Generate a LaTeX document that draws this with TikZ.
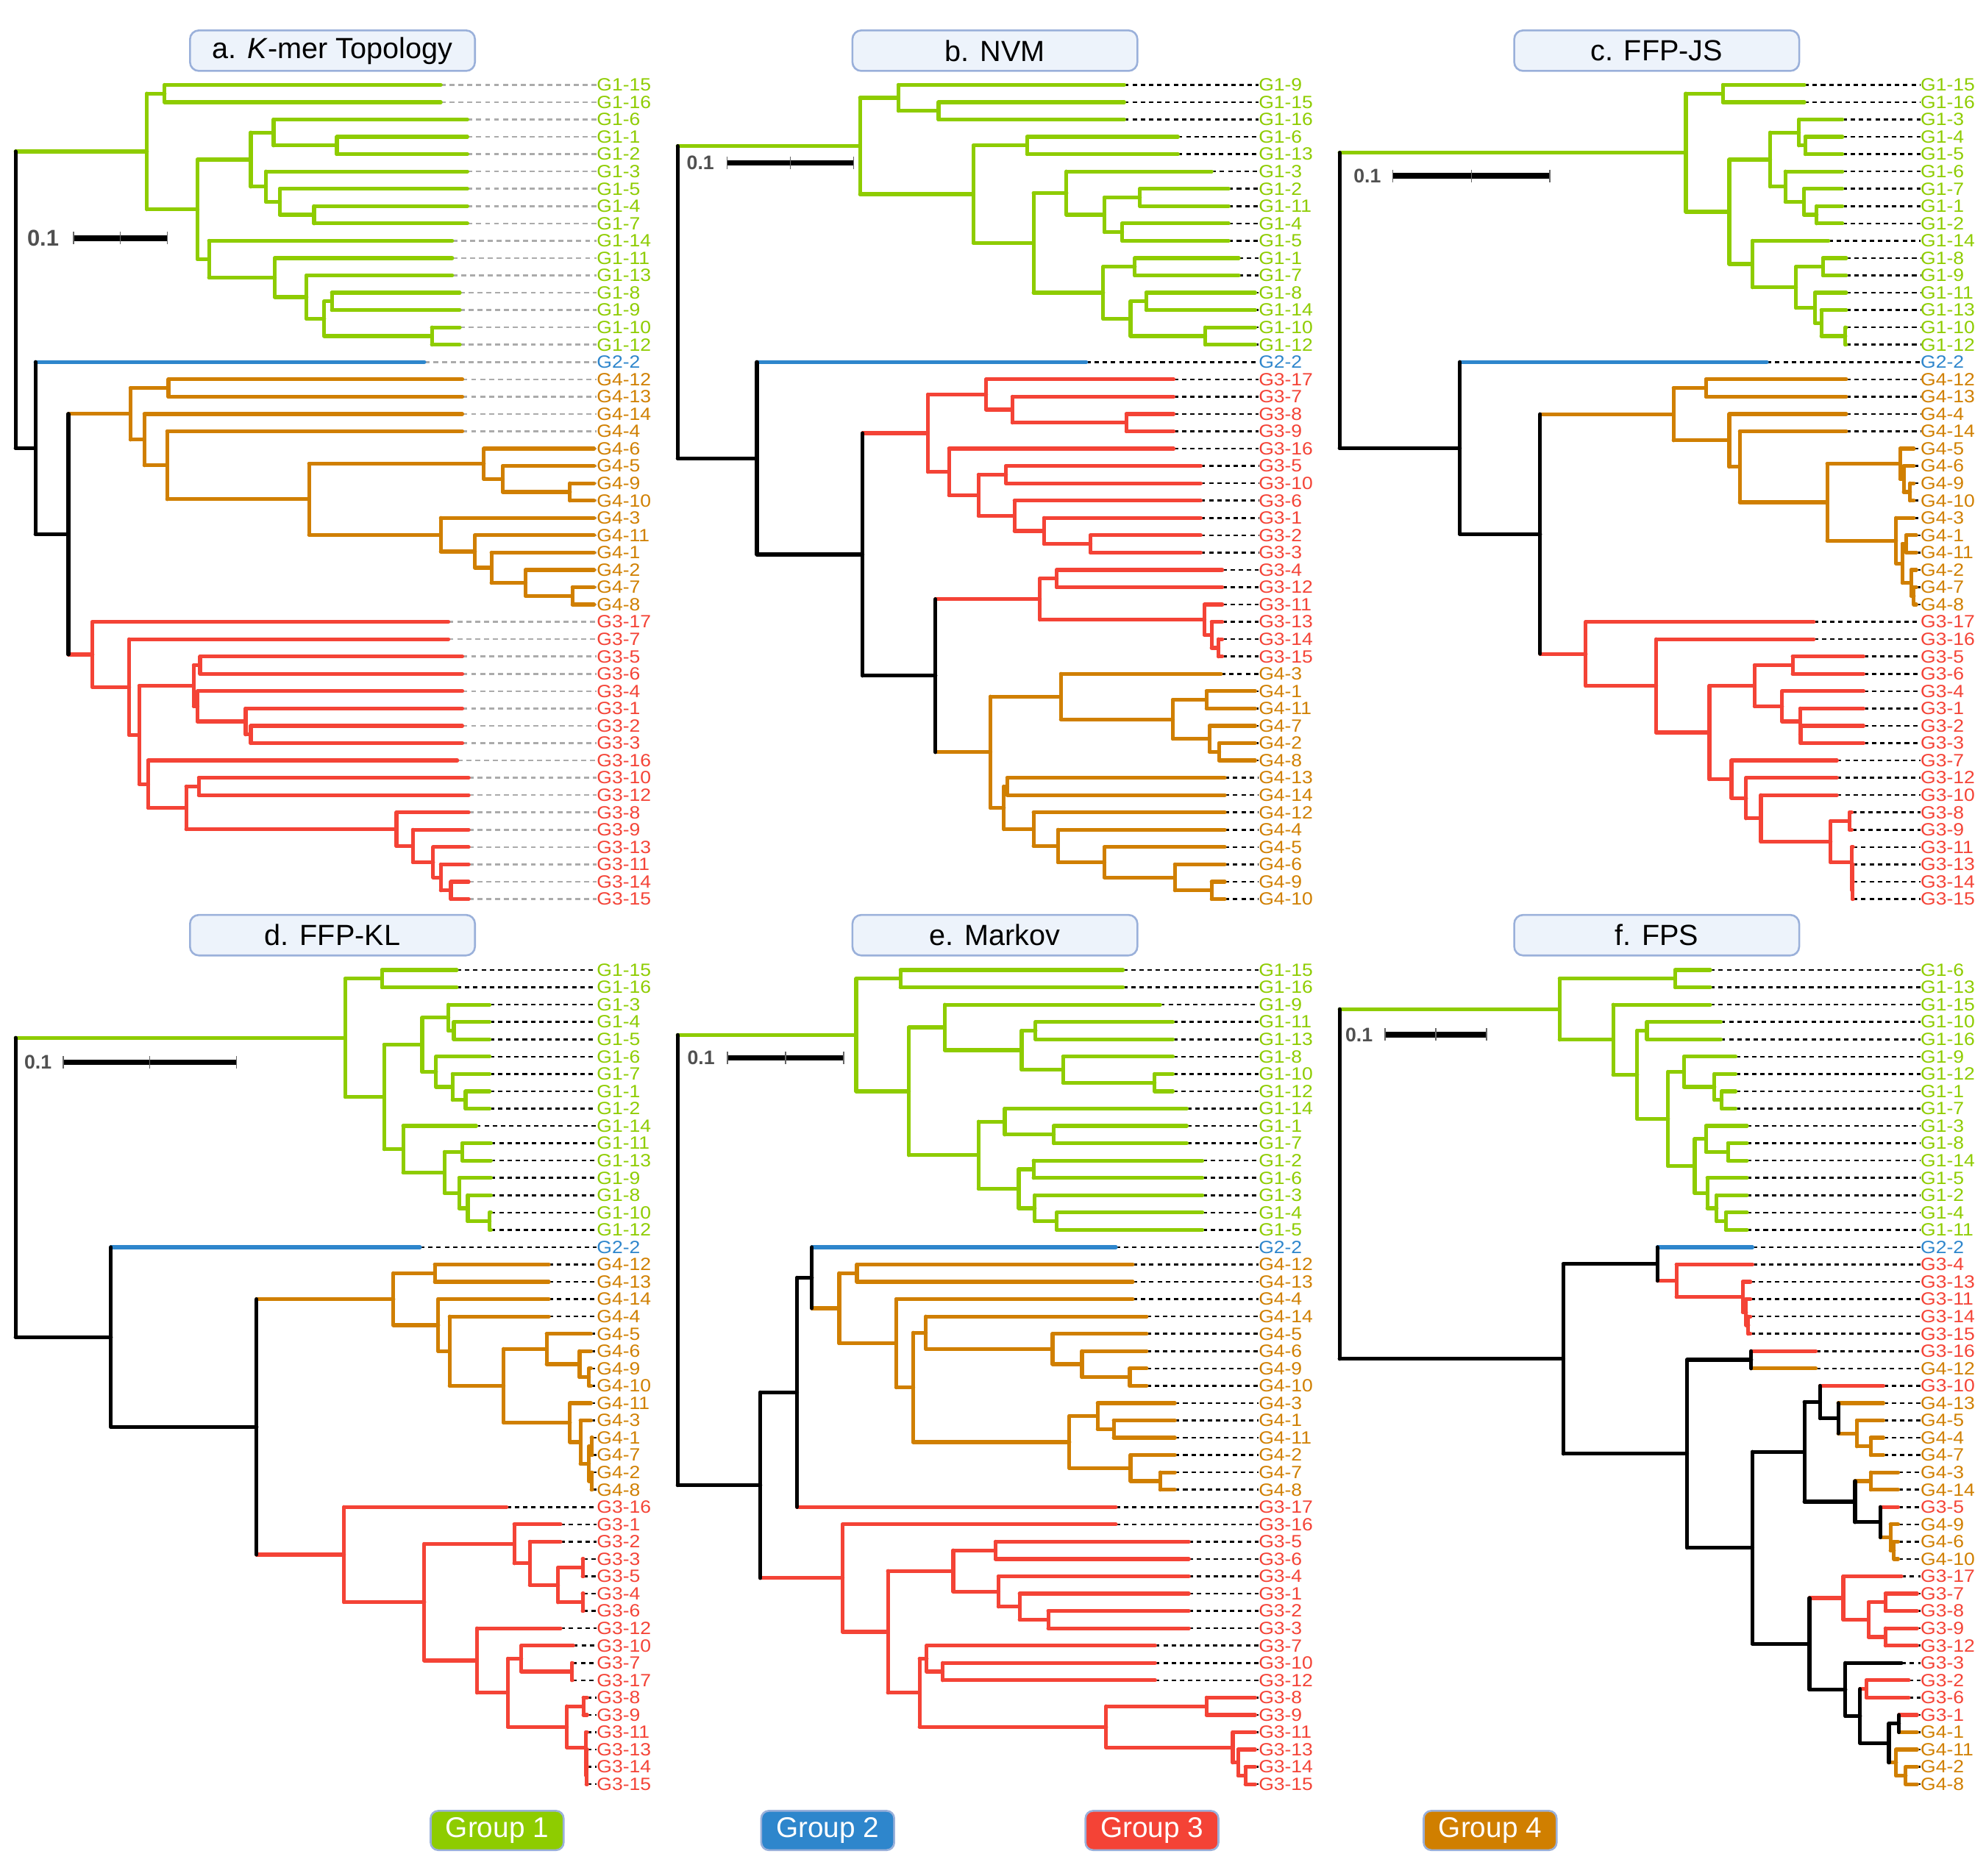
\documentclass[tikz,border=0pt]{standalone}
\usepackage{fontspec}
\setmainfont{Liberation Sans}
\newfontfamily\lab{Liberation Sans}[FakeStretch=1.1]
\usetikzlibrary{calc}
\definecolor{g1}{HTML}{8ECC00}
\definecolor{g2}{HTML}{2E86CC}
\definecolor{g3}{HTML}{F44336}
\definecolor{g4}{HTML}{D07F00}
\definecolor{tfill}{HTML}{EDF3FB}
\definecolor{tedge}{HTML}{9AB0DA}
\definecolor{sbtxt}{HTML}{505050}
\def\RH{13.68}
\newcommand\Lf[5]{%
  \coordinate (#1#2) at (#4,\YO+\RH*#3);
  \node[lbl,text=#5] (#1#2t) at (\LX,\YO+\RH*#3) {#2};
  \draw[leader] (#1#2) -- (#1#2t.west);
  \expandafter\xdef\csname cl#1#2\endcsname{#5}}
\newcommand\Nd[6]{%
  \coordinate (#1#2m) at ($(#1#5)!0.5!(#1#6)$);
  \coordinate (#1#2x) at (#3,0);
  \coordinate (#1#2) at (#1#2m -| #1#2x);
  \edef\ca{\csname cl#1#5\endcsname}%
  \edef\cb{\csname cl#1#6\endcsname}%
  \draw[br,draw=\ca] (#1#2 |- #1#5) -- (#1#5);
  \draw[br,draw=\cb] (#1#2 |- #1#6) -- (#1#6);
  \draw[br,draw=#4] (#1#2 |- #1#5) -- (#1#2 |- #1#6);
  \expandafter\xdef\csname cl#1#2\endcsname{#4}}
\newcommand\setcl[2]{\expandafter\xdef\csname cl#1\endcsname{#2}}
\newcommand\Sb[6]{%
  \node[sbl,font=\bfseries\fontsize{#6}{#6}\selectfont] (#1sbt) at (#2,#3) {0.1};
  \coordinate (#1sb1) at (#4,#3);
  \coordinate (#1sb2) at (#5,#3);
  \coordinate (#1sbm) at ($(#1sb1)!0.5!(#1sb2)$);
  \draw[sbar] (#1sb1) -- (#1sb2);
  \draw[tick] ([yshift=5pt]#1sb1) -- ([yshift=-5pt]#1sb1);
  \draw[tick] ([yshift=5pt]#1sbm) -- ([yshift=-5pt]#1sbm);
  \draw[tick] ([yshift=5pt]#1sb2) -- ([yshift=-5pt]#1sb2);}
\tikzset{
  br/.style={line width=3pt,line cap=round},
  leader/.style={draw=black,line width=1.5pt,dash pattern=on 3.5pt off 3pt},
  lbl/.style={anchor=west,inner sep=0pt,font=\lab\fontsize{14}{14}\selectfont},
  ttl/.style={draw=tedge,fill=tfill,rounded corners=7pt,line width=1.5pt,minimum width=225pt,minimum height=32pt,inner sep=0pt,font=\fontsize{23}{23}\selectfont},
  leg/.style={draw=tedge,rounded corners=6pt,line width=1.5pt,minimum width=105pt,minimum height=31pt,inner sep=0pt,text=white,font=\fontsize{22.5}{22.5}\selectfont},
  sbl/.style={inner sep=0pt,text=sbtxt},
  sbar/.style={line width=4.5pt,draw=black},
  tick/.style={line width=0.8pt,draw=black!60}
}
\begin{document}
\begin{tikzpicture}[x=1pt,y=-1pt]
\useasboundingbox (0,0) rectangle (1568,1481);
% titles
\node[ttl] (ta) at (262.5,40) {a. \textit{K}-mer Topology};
\node[ttl] (tb) at (785.5,40) {b. NVM};
\node[ttl] (tc) at (1308,40) {c. FFP-JS};
\node[ttl] (td) at (262.5,738.5) {d. FFP-KL};
\node[ttl] (te) at (785.5,738.5) {e. Markov};
\node[ttl] (tf) at (1308,738.5) {f. FPS};
% legend
\node[leg,fill=g1] (lg1) at (392.5,1445.5) {Group 1};
\node[leg,fill=g2] (lg2) at (653.5,1445.5) {Group 2};
\node[leg,fill=g3] (lg3) at (909.5,1445.5) {Group 3};
\node[leg,fill=g4] (lg4) at (1176.5,1445.5) {Group 4};

%================ PANEL A
\begin{scope}
\def\LX{471}\def\YO{67}
\tikzset{leader/.style={draw=black!33,line width=1.5pt,dash pattern=on 4pt off 3pt}}
\Lf{a}{G1-15}{0}{348}{g1}
\Lf{a}{G1-16}{1}{348}{g1}
\Lf{a}{G1-6}{2}{369}{g1}
\Lf{a}{G1-1}{3}{369}{g1}
\Lf{a}{G1-2}{4}{369}{g1}
\Lf{a}{G1-3}{5}{369}{g1}
\Lf{a}{G1-5}{6}{369}{g1}
\Lf{a}{G1-4}{7}{369}{g1}
\Lf{a}{G1-7}{8}{369}{g1}
\Lf{a}{G1-14}{9}{357}{g1}
\Lf{a}{G1-11}{10}{357}{g1}
\Lf{a}{G1-13}{11}{357}{g1}
\Lf{a}{G1-8}{12}{363}{g1}
\Lf{a}{G1-9}{13}{363}{g1}
\Lf{a}{G1-10}{14}{363}{g1}
\Lf{a}{G1-12}{15}{363}{g1}
\Lf{a}{G2-2}{16}{335}{g2}
\Lf{a}{G4-12}{17}{365}{g4}
\Lf{a}{G4-13}{18}{365}{g4}
\Lf{a}{G4-14}{19}{365}{g4}
\Lf{a}{G4-4}{20}{365}{g4}
\Lf{a}{G4-6}{21}{469}{g4}
\Lf{a}{G4-5}{22}{469}{g4}
\Lf{a}{G4-9}{23}{469}{g4}
\Lf{a}{G4-10}{24}{469}{g4}
\Lf{a}{G4-3}{25}{469}{g4}
\Lf{a}{G4-11}{26}{469}{g4}
\Lf{a}{G4-1}{27}{469}{g4}
\Lf{a}{G4-2}{28}{469}{g4}
\Lf{a}{G4-7}{29}{469}{g4}
\Lf{a}{G4-8}{30}{469}{g4}
\Lf{a}{G3-17}{31}{354}{g3}
\Lf{a}{G3-7}{32}{354}{g3}
\Lf{a}{G3-5}{33}{365}{g3}
\Lf{a}{G3-6}{34}{365}{g3}
\Lf{a}{G3-4}{35}{365}{g3}
\Lf{a}{G3-1}{36}{365}{g3}
\Lf{a}{G3-2}{37}{365}{g3}
\Lf{a}{G3-3}{38}{365}{g3}
\Lf{a}{G3-16}{39}{361}{g3}
\Lf{a}{G3-10}{40}{370}{g3}
\Lf{a}{G3-12}{41}{370}{g3}
\Lf{a}{G3-8}{42}{370}{g3}
\Lf{a}{G3-9}{43}{370}{g3}
\Lf{a}{G3-13}{44}{370}{g3}
\Lf{a}{G3-11}{45}{370}{g3}
\Lf{a}{G3-14}{46}{370}{g3}
\Lf{a}{G3-15}{47}{370}{g3}
\Nd{a}{n1}{130}{g1}{G1-15}{G1-16}
\Nd{a}{n2}{266}{g1}{G1-1}{G1-2}
\Nd{a}{n3}{216}{g1}{G1-6}{n2}
\Nd{a}{n4}{248}{g1}{G1-4}{G1-7}
\Nd{a}{n5}{221}{g1}{G1-5}{n4}
\Nd{a}{n6}{210}{g1}{G1-3}{n5}
\Nd{a}{n7}{198}{g1}{n3}{n6}
\Nd{a}{n8}{262}{g1}{G1-8}{G1-9}
\Nd{a}{n9}{341}{g1}{G1-10}{G1-12}
\Nd{a}{n10}{256}{g1}{n8}{n9}
\Nd{a}{n11}{242}{g1}{G1-13}{n10}
\Nd{a}{n12}{217}{g1}{G1-11}{n11}
\Nd{a}{n13}{165}{g1}{G1-14}{n12}
\Nd{a}{n14}{156}{g1}{n7}{n13}
\Nd{a}{n15}{116}{g1}{n1}{n14}
\Nd{a}{o1}{133}{g4}{G4-12}{G4-13}
\Nd{a}{o2}{450}{g4}{G4-9}{G4-10}
\Nd{a}{o3}{397}{g4}{G4-5}{o2}
\Nd{a}{o4}{382}{g4}{G4-6}{o3}
\Nd{a}{o5}{452}{g4}{G4-7}{G4-8}
\Nd{a}{o6}{415}{g4}{G4-2}{o5}
\Nd{a}{o7}{388}{g4}{G4-1}{o6}
\Nd{a}{o8}{375}{g4}{G4-11}{o7}
\Nd{a}{o9}{348}{g4}{G4-3}{o8}
\Nd{a}{o10}{244}{g4}{o4}{o9}
\Nd{a}{o11}{132}{g4}{G4-4}{o10}
\Nd{a}{o12}{114}{g4}{G4-14}{o11}
\Nd{a}{o13}{103}{g4}{o1}{o12}
\Nd{a}{r1}{158}{g3}{G3-5}{G3-6}
\Nd{a}{r2}{198}{g3}{G3-2}{G3-3}
\Nd{a}{r3}{194}{g3}{G3-1}{r2}
\Nd{a}{r4}{156}{g3}{G3-4}{r3}
\Nd{a}{r5}{153}{g3}{r1}{r4}
\Nd{a}{r6}{157}{g3}{G3-10}{G3-12}
\Nd{a}{r7}{356}{g3}{G3-14}{G3-15}
\Nd{a}{r8}{348}{g3}{G3-11}{r7}
\Nd{a}{r9}{342}{g3}{G3-13}{r8}
\Nd{a}{r10}{326}{g3}{G3-9}{r9}
\Nd{a}{r11}{313}{g3}{G3-8}{r10}
\Nd{a}{r12}{147}{g3}{r6}{r11}
\Nd{a}{r13}{117}{g3}{G3-16}{r12}
\Nd{a}{r14}{110}{g3}{r5}{r13}
\Nd{a}{r15}{102}{g3}{G3-7}{r14}
\Nd{a}{r16}{73}{g3}{G3-17}{r15}
\Nd{a}{k1}{54}{black}{o13}{r16}
\Nd{a}{k2}{28}{black}{G2-2}{k1}
\Nd{a}{k3}{12.3}{black}{n15}{k2}
\Sb{a}{34}{188}{58}{132}{18}
\end{scope}

%================ PANEL B
\begin{scope}
\def\LX{993.6}\def\YO{67}
\Lf{b}{G1-9}{0}{887.6}{g1}
\Lf{b}{G1-15}{1}{887.6}{g1}
\Lf{b}{G1-16}{2}{887.6}{g1}
\Lf{b}{G1-6}{3}{930}{g1}
\Lf{b}{G1-13}{4}{930}{g1}
\Lf{b}{G1-3}{5}{956.6}{g1}
\Lf{b}{G1-2}{6}{970}{g1}
\Lf{b}{G1-11}{7}{970}{g1}
\Lf{b}{G1-4}{8}{970}{g1}
\Lf{b}{G1-5}{9}{970}{g1}
\Lf{b}{G1-1}{10}{978}{g1}
\Lf{b}{G1-7}{11}{978}{g1}
\Lf{b}{G1-8}{12}{991}{g1}
\Lf{b}{G1-14}{13}{991}{g1}
\Lf{b}{G1-10}{14}{991}{g1}
\Lf{b}{G1-12}{15}{991}{g1}
\Lf{b}{G2-2}{16}{857.6}{g2}
\Lf{b}{G3-17}{17}{926.6}{g3}
\Lf{b}{G3-7}{18}{926.6}{g3}
\Lf{b}{G3-8}{19}{926.6}{g3}
\Lf{b}{G3-9}{20}{926.6}{g3}
\Lf{b}{G3-16}{21}{926.6}{g3}
\Lf{b}{G3-5}{22}{948}{g3}
\Lf{b}{G3-10}{23}{948}{g3}
\Lf{b}{G3-6}{24}{948}{g3}
\Lf{b}{G3-1}{25}{948}{g3}
\Lf{b}{G3-2}{26}{948}{g3}
\Lf{b}{G3-3}{27}{948}{g3}
\Lf{b}{G3-4}{28}{965}{g3}
\Lf{b}{G3-12}{29}{965}{g3}
\Lf{b}{G3-11}{30}{965}{g3}
\Lf{b}{G3-13}{31}{965}{g3}
\Lf{b}{G3-14}{32}{965}{g3}
\Lf{b}{G3-15}{33}{965}{g3}
\Lf{b}{G4-3}{34}{964}{g4}
\Lf{b}{G4-1}{35}{991}{g4}
\Lf{b}{G4-11}{36}{991}{g4}
\Lf{b}{G4-7}{37}{991}{g4}
\Lf{b}{G4-2}{38}{991}{g4}
\Lf{b}{G4-8}{39}{991}{g4}
\Lf{b}{G4-13}{40}{967}{g4}
\Lf{b}{G4-14}{41}{967}{g4}
\Lf{b}{G4-12}{42}{967}{g4}
\Lf{b}{G4-4}{43}{967}{g4}
\Lf{b}{G4-5}{44}{967}{g4}
\Lf{b}{G4-6}{45}{967}{g4}
\Lf{b}{G4-9}{46}{967}{g4}
\Lf{b}{G4-10}{47}{967}{g4}
\Nd{b}{n1}{741}{g1}{G1-15}{G1-16}
\Nd{b}{n2}{709.3}{g1}{G1-9}{n1}
\Nd{b}{n3}{811}{g1}{G1-6}{G1-13}
\Nd{b}{n4}{900}{g1}{G1-2}{G1-11}
\Nd{b}{n5}{886}{g1}{G1-4}{G1-5}
\Nd{b}{n6}{872}{g1}{n4}{n5}
\Nd{b}{n7}{842}{g1}{G1-3}{n6}
\Nd{b}{n8}{896}{g1}{G1-1}{G1-7}
\Nd{b}{n9}{905}{g1}{G1-8}{G1-14}
\Nd{b}{n10}{951.6}{g1}{G1-10}{G1-12}
\Nd{b}{n11}{892.6}{g1}{n9}{n10}
\Nd{b}{n12}{871}{g1}{n8}{n11}
\Nd{b}{n13}{816}{g1}{n7}{n12}
\Nd{b}{n14}{768.6}{g1}{n3}{n13}
\Nd{b}{n15}{679}{g1}{n2}{n14}
\Nd{b}{r1}{889.3}{g3}{G3-8}{G3-9}
\Nd{b}{r2}{799.3}{g3}{G3-7}{r1}
\Nd{b}{r3}{778.6}{g3}{G3-17}{r2}
\Nd{b}{r4}{794.3}{g3}{G3-5}{G3-10}
\Nd{b}{r5}{861}{g3}{G3-2}{G3-3}
\Nd{b}{r6}{824.3}{g3}{G3-1}{r5}
\Nd{b}{r7}{801}{g3}{G3-6}{r6}
\Nd{b}{r8}{772.6}{g3}{r4}{r7}
\Nd{b}{r9}{749.3}{g3}{G3-16}{r8}
\Nd{b}{r10}{732.6}{g3}{r3}{r9}
\Nd{b}{s1}{834.3}{g3}{G3-4}{G3-12}
\Nd{b}{s2}{962}{g3}{G3-14}{G3-15}
\Nd{b}{s3}{956.6}{g3}{G3-13}{s2}
\Nd{b}{s4}{951}{g3}{G3-11}{s3}
\Nd{b}{s5}{821}{g3}{s1}{s4}
\Nd{b}{o1}{952.6}{g4}{G4-1}{G4-11}
\Nd{b}{o2}{962.6}{g4}{G4-2}{G4-8}
\Nd{b}{o3}{955}{g4}{G4-7}{o2}
\Nd{b}{o4}{926}{g4}{o1}{o3}
\Nd{b}{o5}{837.6}{g4}{G4-3}{o4}
\Nd{b}{o6}{795.3}{g4}{G4-13}{G4-14}
\Nd{b}{o7}{956.6}{g4}{G4-9}{G4-10}
\Nd{b}{o8}{927.6}{g4}{G4-6}{o7}
\Nd{b}{o9}{872}{g4}{G4-5}{o8}
\Nd{b}{o10}{835.3}{g4}{G4-4}{o9}
\Nd{b}{o11}{816}{g4}{G4-12}{o10}
\Nd{b}{o12}{792.6}{g4}{o6}{o11}
\Nd{b}{o13}{782}{g4}{o5}{o12}
\Nd{b}{k1}{738.6}{black}{s5}{o13}
\Nd{b}{k2}{681}{black}{r10}{k1}
\Nd{b}{k3}{597.6}{black}{G2-2}{k2}
\Nd{b}{k4}{535}{black}{n15}{k3}
\Sb{b}{553}{128.7}{574}{674}{15.5}
\end{scope}

%================ PANEL C
\begin{scope}
\def\LX{1516.2}\def\YO{67}
\Lf{c}{G1-15}{0}{1424.6}{g1}
\Lf{c}{G1-16}{1}{1424.6}{g1}
\Lf{c}{G1-3}{2}{1454.6}{g1}
\Lf{c}{G1-4}{3}{1454.6}{g1}
\Lf{c}{G1-5}{4}{1454.6}{g1}
\Lf{c}{G1-6}{5}{1454.6}{g1}
\Lf{c}{G1-7}{6}{1454.6}{g1}
\Lf{c}{G1-1}{7}{1454.6}{g1}
\Lf{c}{G1-2}{8}{1454.6}{g1}
\Lf{c}{G1-14}{9}{1443.6}{g1}
\Lf{c}{G1-8}{10}{1457.6}{g1}
\Lf{c}{G1-9}{11}{1457.6}{g1}
\Lf{c}{G1-11}{12}{1457.6}{g1}
\Lf{c}{G1-13}{13}{1457.6}{g1}
\Lf{c}{G1-10}{14}{1457.6}{g1}
\Lf{c}{G1-12}{15}{1457.6}{g1}
\Lf{c}{G2-2}{16}{1395}{g2}
\Lf{c}{G4-12}{17}{1457.6}{g4}
\Lf{c}{G4-13}{18}{1457.6}{g4}
\Lf{c}{G4-4}{19}{1457.6}{g4}
\Lf{c}{G4-14}{20}{1457.6}{g4}
\Lf{c}{G4-5}{21}{1511}{g4}
\Lf{c}{G4-6}{22}{1511}{g4}
\Lf{c}{G4-9}{23}{1511}{g4}
\Lf{c}{G4-10}{24}{1511}{g4}
\Lf{c}{G4-3}{25}{1511}{g4}
\Lf{c}{G4-1}{26}{1513}{g4}
\Lf{c}{G4-11}{27}{1513}{g4}
\Lf{c}{G4-2}{28}{1513}{g4}
\Lf{c}{G4-7}{29}{1513}{g4}
\Lf{c}{G4-8}{30}{1513}{g4}
\Lf{c}{G3-17}{31}{1432}{g3}
\Lf{c}{G3-16}{32}{1432}{g3}
\Lf{c}{G3-5}{33}{1471.3}{g3}
\Lf{c}{G3-6}{34}{1471.3}{g3}
\Lf{c}{G3-4}{35}{1471.3}{g3}
\Lf{c}{G3-1}{36}{1471.3}{g3}
\Lf{c}{G3-2}{37}{1471.3}{g3}
\Lf{c}{G3-3}{38}{1471.3}{g3}
\Lf{c}{G3-7}{39}{1450.3}{g3}
\Lf{c}{G3-12}{40}{1450.3}{g3}
\Lf{c}{G3-10}{41}{1450.3}{g3}
\Lf{c}{G3-8}{42}{1462}{g3}
\Lf{c}{G3-9}{43}{1462}{g3}
\Lf{c}{G3-11}{44}{1463}{g3}
\Lf{c}{G3-13}{45}{1463}{g3}
\Lf{c}{G3-14}{46}{1463}{g3}
\Lf{c}{G3-15}{47}{1463}{g3}
\Nd{c}{n1}{1360.3}{g1}{G1-15}{G1-16}
\Nd{c}{n2}{1425.3}{g1}{G1-4}{G1-5}
\Nd{c}{n3}{1420.3}{g1}{G1-3}{n2}
\Nd{c}{n4}{1434.3}{g1}{G1-1}{G1-2}
\Nd{c}{n5}{1424.3}{g1}{G1-7}{n4}
\Nd{c}{n6}{1409.6}{g1}{G1-6}{n5}
\Nd{c}{n7}{1397.6}{g1}{n3}{n6}
\Nd{c}{n8}{1439.3}{g1}{G1-8}{G1-9}
\Nd{c}{n9}{1457}{g1}{G1-10}{G1-12}
\Nd{c}{n10}{1438}{g1}{G1-13}{n9}
\Nd{c}{n11}{1433}{g1}{G1-11}{n10}
\Nd{c}{n12}{1418}{g1}{n8}{n11}
\Nd{c}{n13}{1383.6}{g1}{G1-14}{n12}
\Nd{c}{n14}{1365.3}{g1}{n7}{n13}
\Nd{c}{n15}{1331}{g1}{n1}{n14}
\Nd{c}{o1}{1347}{g4}{G4-12}{G4-13}
\Nd{c}{o2}{1508}{g4}{G4-9}{G4-10}
\Nd{c}{o3}{1503}{g4}{G4-6}{o2}
\Nd{c}{o4}{1500.3}{g4}{G4-5}{o3}
\Nd{c}{o5}{1505}{g4}{G4-1}{G4-11}
\Nd{c}{o6}{1511}{g4}{G4-7}{G4-8}
\Nd{c}{o7}{1509}{g4}{G4-2}{o6}
\Nd{c}{o8}{1502}{g4}{o5}{o7}
\Nd{c}{o9}{1497}{g4}{G4-3}{o8}
\Nd{c}{o10}{1442.6}{g4}{o4}{o9}
\Nd{c}{o11}{1373.6}{g4}{G4-14}{o10}
\Nd{c}{o12}{1365.3}{g4}{G4-4}{o11}
\Nd{c}{o13}{1321.3}{g4}{o1}{o12}
\Nd{c}{r1}{1415.3}{g3}{G3-5}{G3-6}
\Nd{c}{r2}{1421.6}{g3}{G3-2}{G3-3}
\Nd{c}{r3}{1421.3}{g3}{G3-1}{r2}
\Nd{c}{r4}{1407}{g3}{G3-4}{r3}
\Nd{c}{r5}{1385.3}{g3}{r1}{r4}
\Nd{c}{r6}{1460.3}{g3}{G3-8}{G3-9}
\Nd{c}{r7}{1462.6}{g3}{G3-14}{G3-15}
\Nd{c}{r8}{1462.3}{g3}{G3-13}{r7}
\Nd{c}{r9}{1462}{g3}{G3-11}{r8}
\Nd{c}{r10}{1445.3}{g3}{r6}{r9}
\Nd{c}{r11}{1390.3}{g3}{G3-10}{r10}
\Nd{c}{r12}{1378.6}{g3}{G3-12}{r11}
\Nd{c}{r13}{1367}{g3}{G3-7}{r12}
\Nd{c}{r14}{1349.6}{g3}{r5}{r13}
\Nd{c}{r15}{1307.6}{g3}{G3-16}{r14}
\Nd{c}{r16}{1252}{g3}{G3-17}{r15}
\Nd{c}{k1}{1216}{black}{o13}{r16}
\Nd{c}{k2}{1152.6}{black}{G2-2}{k1}
\Nd{c}{k3}{1057.6}{black}{n15}{k2}
\Sb{c}{1079.5}{139}{1099.6}{1223.6}{15.5}
\end{scope}

%================ PANEL D
\begin{scope}
\def\LX{471}\def\YO{766}
\Lf{d}{G1-15}{0}{360.6}{g1}
\Lf{d}{G1-16}{1}{360.6}{g1}
\Lf{d}{G1-3}{2}{386.6}{g1}
\Lf{d}{G1-4}{3}{386.6}{g1}
\Lf{d}{G1-5}{4}{386.6}{g1}
\Lf{d}{G1-6}{5}{386.6}{g1}
\Lf{d}{G1-7}{6}{386.6}{g1}
\Lf{d}{G1-1}{7}{386.6}{g1}
\Lf{d}{G1-2}{8}{386.6}{g1}
\Lf{d}{G1-14}{9}{376}{g1}
\Lf{d}{G1-11}{10}{387.6}{g1}
\Lf{d}{G1-13}{11}{387.6}{g1}
\Lf{d}{G1-9}{12}{387.6}{g1}
\Lf{d}{G1-8}{13}{387.6}{g1}
\Lf{d}{G1-10}{14}{387.6}{g1}
\Lf{d}{G1-12}{15}{387.6}{g1}
\Lf{d}{G2-2}{16}{331.6}{g2}
\Lf{d}{G4-12}{17}{433.3}{g4}
\Lf{d}{G4-13}{18}{433.3}{g4}
\Lf{d}{G4-14}{19}{433.3}{g4}
\Lf{d}{G4-4}{20}{433.3}{g4}
\Lf{d}{G4-5}{21}{466.6}{g4}
\Lf{d}{G4-6}{22}{466.6}{g4}
\Lf{d}{G4-9}{23}{466.6}{g4}
\Lf{d}{G4-10}{24}{466.6}{g4}
\Lf{d}{G4-11}{25}{466.6}{g4}
\Lf{d}{G4-3}{26}{466.6}{g4}
\Lf{d}{G4-1}{27}{467.6}{g4}
\Lf{d}{G4-7}{28}{467.6}{g4}
\Lf{d}{G4-2}{29}{467.6}{g4}
\Lf{d}{G4-8}{30}{467.6}{g4}
\Lf{d}{G3-16}{31}{400}{g3}
\Lf{d}{G3-1}{32}{442.6}{g3}
\Lf{d}{G3-2}{33}{442.6}{g3}
\Lf{d}{G3-3}{34}{460.6}{g3}
\Lf{d}{G3-5}{35}{460.6}{g3}
\Lf{d}{G3-4}{36}{460.6}{g3}
\Lf{d}{G3-6}{37}{460.6}{g3}
\Lf{d}{G3-12}{38}{442.6}{g3}
\Lf{d}{G3-10}{39}{452.6}{g3}
\Lf{d}{G3-7}{40}{452}{g3}
\Lf{d}{G3-17}{41}{452}{g3}
\Lf{d}{G3-8}{42}{463.6}{g3}
\Lf{d}{G3-9}{43}{463.6}{g3}
\Lf{d}{G3-11}{44}{463.6}{g3}
\Lf{d}{G3-13}{45}{463.6}{g3}
\Lf{d}{G3-14}{46}{463.6}{g3}
\Lf{d}{G3-15}{47}{463.6}{g3}
\Nd{d}{n1}{301.6}{g1}{G1-15}{G1-16}
\Nd{d}{n2}{358.3}{g1}{G1-4}{G1-5}
\Nd{d}{n3}{354}{g1}{G1-3}{n2}
\Nd{d}{n4}{367.6}{g1}{G1-1}{G1-2}
\Nd{d}{n5}{357.3}{g1}{G1-7}{n4}
\Nd{d}{n6}{344.3}{g1}{G1-6}{n5}
\Nd{d}{n7}{333.3}{g1}{n3}{n6}
\Nd{d}{n8}{365}{g1}{G1-11}{G1-13}
\Nd{d}{n9}{386.6}{g1}{G1-10}{G1-12}
\Nd{d}{n10}{369.3}{g1}{G1-8}{n9}
\Nd{d}{n11}{362.6}{g1}{G1-9}{n10}
\Nd{d}{n12}{351}{g1}{n8}{n11}
\Nd{d}{n13}{318.3}{g1}{G1-14}{n12}
\Nd{d}{n14}{303.3}{g1}{n7}{n13}
\Nd{d}{n15}{272.6}{g1}{n1}{n14}
\Nd{d}{o1}{343.3}{g4}{G4-12}{G4-13}
\Nd{d}{o2}{465}{g4}{G4-9}{G4-10}
\Nd{d}{o3}{457.6}{g4}{G4-6}{o2}
\Nd{d}{o4}{431.6}{g4}{G4-5}{o3}
\Nd{d}{o5}{467}{g4}{G4-1}{G4-7}
\Nd{d}{o6}{467}{g4}{G4-2}{G4-8}
\Nd{d}{o7}{465}{g4}{o5}{o6}
\Nd{d}{o8}{458.3}{g4}{G4-3}{o7}
\Nd{d}{o9}{450}{g4}{G4-11}{o8}
\Nd{d}{o10}{397.6}{g4}{o4}{o9}
\Nd{d}{o11}{355}{g4}{G4-4}{o10}
\Nd{d}{o12}{346}{g4}{G4-14}{o11}
\Nd{d}{o13}{310.6}{g4}{o1}{o12}
\Nd{d}{r1}{460}{g3}{G3-3}{G3-5}
\Nd{d}{r2}{460}{g3}{G3-4}{G3-6}
\Nd{d}{r3}{440.6}{g3}{r1}{r2}
\Nd{d}{r4}{418.3}{g3}{G3-2}{r3}
\Nd{d}{r5}{406}{g3}{G3-1}{r4}
\Nd{d}{r6}{451.6}{g3}{G3-7}{G3-17}
\Nd{d}{r7}{411.6}{g3}{G3-10}{r6}
\Nd{d}{r8}{460.6}{g3}{G3-8}{G3-9}
\Nd{d}{r9}{463}{g3}{G3-14}{G3-15}
\Nd{d}{r10}{462.8}{g3}{G3-13}{r9}
\Nd{d}{r11}{462.6}{g3}{G3-11}{r10}
\Nd{d}{r12}{447.6}{g3}{r8}{r11}
\Nd{d}{r13}{401}{g3}{r7}{r12}
\Nd{d}{r14}{376.6}{g3}{G3-12}{r13}
\Nd{d}{r15}{335}{g3}{r5}{r14}
\Nd{d}{r16}{271.6}{g3}{G3-16}{r15}
\Nd{d}{k1}{202.6}{black}{o13}{r16}
\Nd{d}{k2}{87.6}{black}{G2-2}{k1}
\Nd{d}{k3}{12.3}{black}{n15}{k2}
\Sb{d}{30}{838.8}{50}{186.6}{15.5}
\end{scope}

%================ PANEL E
\begin{scope}
\def\LX{993.6}\def\YO{766}
\Lf{e}{G1-15}{0}{886.6}{g1}
\Lf{e}{G1-16}{1}{886.6}{g1}
\Lf{e}{G1-9}{2}{916}{g1}
\Lf{e}{G1-11}{3}{926}{g1}
\Lf{e}{G1-13}{4}{926}{g1}
\Lf{e}{G1-8}{5}{926}{g1}
\Lf{e}{G1-10}{6}{926}{g1}
\Lf{e}{G1-12}{7}{926}{g1}
\Lf{e}{G1-14}{8}{937}{g1}
\Lf{e}{G1-1}{9}{937}{g1}
\Lf{e}{G1-7}{10}{937}{g1}
\Lf{e}{G1-2}{11}{949.3}{g1}
\Lf{e}{G1-6}{12}{949.3}{g1}
\Lf{e}{G1-3}{13}{949.3}{g1}
\Lf{e}{G1-4}{14}{949.3}{g1}
\Lf{e}{G1-5}{15}{949.3}{g1}
\Lf{e}{G2-2}{16}{881}{g2}
\Lf{e}{G4-12}{17}{894.3}{g4}
\Lf{e}{G4-13}{18}{894.3}{g4}
\Lf{e}{G4-4}{19}{894.3}{g4}
\Lf{e}{G4-14}{20}{905.3}{g4}
\Lf{e}{G4-5}{21}{905.3}{g4}
\Lf{e}{G4-6}{22}{905.3}{g4}
\Lf{e}{G4-9}{23}{905.3}{g4}
\Lf{e}{G4-10}{24}{905.3}{g4}
\Lf{e}{G4-3}{25}{927.6}{g4}
\Lf{e}{G4-1}{26}{927.6}{g4}
\Lf{e}{G4-11}{27}{927.6}{g4}
\Lf{e}{G4-2}{28}{927.6}{g4}
\Lf{e}{G4-7}{29}{927.6}{g4}
\Lf{e}{G4-8}{30}{927.6}{g4}
\Lf{e}{G3-17}{31}{881}{g3}
\Lf{e}{G3-16}{32}{881}{g3}
\Lf{e}{G3-5}{33}{938.6}{g3}
\Lf{e}{G3-6}{34}{938.6}{g3}
\Lf{e}{G3-4}{35}{938.6}{g3}
\Lf{e}{G3-1}{36}{938.6}{g3}
\Lf{e}{G3-2}{37}{938.6}{g3}
\Lf{e}{G3-3}{38}{938.6}{g3}
\Lf{e}{G3-7}{39}{912}{g3}
\Lf{e}{G3-10}{40}{912}{g3}
\Lf{e}{G3-12}{41}{912}{g3}
\Lf{e}{G3-8}{42}{991}{g3}
\Lf{e}{G3-9}{43}{991}{g3}
\Lf{e}{G3-11}{44}{991}{g3}
\Lf{e}{G3-13}{45}{991}{g3}
\Lf{e}{G3-14}{46}{991}{g3}
\Lf{e}{G3-15}{47}{991}{g3}
\Nd{e}{n1}{711}{g1}{G1-15}{G1-16}
\Nd{e}{n2}{817.6}{g1}{G1-11}{G1-13}
\Nd{e}{n3}{911.6}{g1}{G1-10}{G1-12}
\Nd{e}{n4}{839.3}{g1}{G1-8}{n3}
\Nd{e}{n5}{806.6}{g1}{n2}{n4}
\Nd{e}{n6}{746}{g1}{G1-9}{n5}
\Nd{e}{n7}{832}{g1}{G1-1}{G1-7}
\Nd{e}{n8}{793.3}{g1}{G1-14}{n7}
\Nd{e}{n9}{816}{g1}{G1-2}{G1-6}
\Nd{e}{n10}{834.3}{g1}{G1-4}{G1-5}
\Nd{e}{n11}{817}{g1}{G1-3}{n10}
\Nd{e}{n12}{804.3}{g1}{n9}{n11}
\Nd{e}{n13}{772.6}{g1}{n8}{n12}
\Nd{e}{n14}{717.6}{g1}{n6}{n13}
\Nd{e}{n15}{676}{g1}{n1}{n14}
\Nd{e}{o1}{676.6}{g4}{G4-12}{G4-13}
\Nd{e}{o2}{892}{g4}{G4-9}{G4-10}
\Nd{e}{o3}{854.3}{g4}{G4-6}{o2}
\Nd{e}{o4}{831}{g4}{G4-5}{o3}
\Nd{e}{o5}{731}{g4}{G4-14}{o4}
\Nd{e}{o6}{879.3}{g4}{G4-1}{G4-11}
\Nd{e}{o7}{866.6}{g4}{G4-3}{o6}
\Nd{e}{o8}{916}{g4}{G4-7}{G4-8}
\Nd{e}{o9}{892.6}{g4}{G4-2}{o8}
\Nd{e}{o10}{844.3}{g4}{o7}{o9}
\Nd{e}{o11}{721}{g4}{o5}{o10}
\Nd{e}{o12}{707.6}{g4}{G4-4}{o11}
\Nd{e}{o13}{662.6}{g4}{o1}{o12}
\Nd{e}{r1}{786}{g3}{G3-5}{G3-6}
\Nd{e}{r2}{827.6}{g3}{G3-2}{G3-3}
\Nd{e}{r3}{805}{g3}{G3-1}{r2}
\Nd{e}{r4}{788.3}{g3}{G3-4}{r3}
\Nd{e}{r5}{752.6}{g3}{r1}{r4}
\Nd{e}{r6}{744.3}{g3}{G3-10}{G3-12}
\Nd{e}{r7}{731.6}{g3}{G3-7}{r6}
\Nd{e}{r8}{952.6}{g3}{G3-8}{G3-9}
\Nd{e}{r9}{983.3}{g3}{G3-14}{G3-15}
\Nd{e}{r10}{977.6}{g3}{G3-13}{r9}
\Nd{e}{r11}{973.3}{g3}{G3-11}{r10}
\Nd{e}{r12}{873.3}{g3}{r8}{r11}
\Nd{e}{r13}{726}{g3}{r7}{r12}
\Nd{e}{r14}{701}{g3}{r5}{r13}
\Nd{e}{r15}{665.3}{g3}{G3-16}{r14}
\Nd{e}{k1}{641}{black}{G2-2}{o13}
\Nd{e}{k2}{629.3}{black}{k1}{G3-17}
\Nd{e}{k3}{600.3}{black}{k2}{r15}
\Nd{e}{k4}{535}{black}{n15}{k3}
\Sb{e}{553.5}{835.4}{574.3}{666}{15.5}
\end{scope}

%================ PANEL F
\begin{scope}
\def\LX{1516.2}\def\YO{766}
\Lf{f}{G1-6}{0}{1350.3}{g1}
\Lf{f}{G1-13}{1}{1350.3}{g1}
\Lf{f}{G1-15}{2}{1350.3}{g1}
\Lf{f}{G1-10}{3}{1358.6}{g1}
\Lf{f}{G1-16}{4}{1358.6}{g1}
\Lf{f}{G1-9}{5}{1370.3}{g1}
\Lf{f}{G1-12}{6}{1370.3}{g1}
\Lf{f}{G1-1}{7}{1370.3}{g1}
\Lf{f}{G1-7}{8}{1370.3}{g1}
\Lf{f}{G1-3}{9}{1379.3}{g1}
\Lf{f}{G1-8}{10}{1379.3}{g1}
\Lf{f}{G1-14}{11}{1379.3}{g1}
\Lf{f}{G1-5}{12}{1379.3}{g1}
\Lf{f}{G1-2}{13}{1379.3}{g1}
\Lf{f}{G1-4}{14}{1379.3}{g1}
\Lf{f}{G1-11}{15}{1379.3}{g1}
\Lf{f}{G2-2}{16}{1383.6}{g2}
\Lf{f}{G3-4}{17}{1383.6}{g3}
\Lf{f}{G3-13}{18}{1382}{g3}
\Lf{f}{G3-11}{19}{1382}{g3}
\Lf{f}{G3-14}{20}{1382}{g3}
\Lf{f}{G3-15}{21}{1382}{g3}
\Lf{f}{G3-16}{22}{1433.6}{g3}
\Lf{f}{G4-12}{23}{1433.6}{g4}
\Lf{f}{G3-10}{24}{1487}{g3}
\Lf{f}{G4-13}{25}{1487}{g4}
\Lf{f}{G4-5}{26}{1487}{g4}
\Lf{f}{G4-4}{27}{1487}{g4}
\Lf{f}{G4-7}{28}{1487}{g4}
\Lf{f}{G4-3}{29}{1498.6}{g4}
\Lf{f}{G4-14}{30}{1498.6}{g4}
\Lf{f}{G3-5}{31}{1498.6}{g3}
\Lf{f}{G4-9}{32}{1498.6}{g4}
\Lf{f}{G4-6}{33}{1498.6}{g4}
\Lf{f}{G4-10}{34}{1498.6}{g4}
\Lf{f}{G3-17}{35}{1501.3}{g3}
\Lf{f}{G3-7}{36}{1513.6}{g3}
\Lf{f}{G3-8}{37}{1513.6}{g3}
\Lf{f}{G3-9}{38}{1513.6}{g3}
\Lf{f}{G3-12}{39}{1513.6}{g3}
\Lf{f}{G3-3}{40}{1501.3}{g3}
\Lf{f}{G3-2}{41}{1507}{g3}
\Lf{f}{G3-6}{42}{1507}{g3}
\Lf{f}{G3-1}{43}{1513.6}{g3}
\Lf{f}{G4-1}{44}{1513.6}{g4}
\Lf{f}{G4-11}{45}{1513.6}{g4}
\Lf{f}{G4-2}{46}{1513.6}{g4}
\Lf{f}{G4-8}{47}{1513.6}{g4}
\setcl{fG3-3}{black}
\Nd{f}{n1}{1322.6}{g1}{G1-6}{G1-13}
\Nd{f}{n2}{1300.3}{g1}{G1-10}{G1-16}
\Nd{f}{n3}{1359.3}{g1}{G1-1}{G1-7}
\Nd{f}{n4}{1353.6}{g1}{G1-12}{n3}
\Nd{f}{n5}{1329.6}{g1}{G1-9}{n4}
\Nd{f}{n6}{1364.3}{g1}{G1-8}{G1-14}
\Nd{f}{n7}{1347}{g1}{G1-3}{n6}
\Nd{f}{n8}{1362.6}{g1}{G1-4}{G1-11}
\Nd{f}{n9}{1355.3}{g1}{G1-2}{n8}
\Nd{f}{n10}{1348}{g1}{G1-5}{n9}
\Nd{f}{n11}{1338}{g1}{n7}{n10}
\Nd{f}{n12}{1317}{g1}{n5}{n11}
\Nd{f}{n13}{1292.6}{g1}{n2}{n12}
\Nd{f}{n14}{1273.6}{g1}{G1-15}{n13}
\Nd{f}{n15}{1231.3}{g1}{n1}{n14}
\Nd{f}{r1}{1380.3}{g3}{G3-14}{G3-15}
\Nd{f}{r2}{1378.6}{g3}{G3-11}{r1}
\Nd{f}{r3}{1376}{g3}{G3-13}{r2}
\Nd{f}{r4}{1323.6}{g3}{G3-4}{r3}
\Nd{f}{m1}{1308.6}{black}{G2-2}{r4}
\Nd{f}{k1}{1382.6}{black}{G3-16}{G4-12}
\Nd{f}{o1}{1477}{g4}{G4-4}{G4-7}
\Nd{f}{o2}{1466}{g4}{G4-5}{o1}
\Nd{f}{m2}{1451.3}{black}{G4-13}{o2}
\Nd{f}{m3}{1437}{black}{G3-10}{m2}
\Nd{f}{o3}{1477}{g4}{G4-3}{G4-14}
\Nd{f}{o4}{1495.3}{g4}{G4-6}{G4-10}
\Nd{f}{o5}{1492.6}{g4}{G4-9}{o4}
\Nd{f}{m4}{1484.6}{black}{G3-5}{o5}
\Nd{f}{m5}{1464.6}{black}{o3}{m4}
\Nd{f}{m6}{1424.6}{black}{m3}{m5}
\Nd{f}{r5}{1488.6}{g3}{G3-7}{G3-8}
\Nd{f}{r6}{1488.6}{g3}{G3-9}{G3-12}
\Nd{f}{r7}{1475.3}{g3}{r5}{r6}
\Nd{f}{r8}{1455.3}{g3}{G3-17}{r7}
\Nd{f}{r9}{1473.6}{g3}{G3-2}{G3-6}
\Nd{f}{m7}{1499.3}{black}{G3-1}{G4-1}
\Nd{f}{o6}{1504.6}{g4}{G4-2}{G4-8}
\Nd{f}{o7}{1497}{g4}{G4-11}{o6}
\Nd{f}{m8}{1491.3}{black}{m7}{o7}
\Nd{f}{m9}{1468.6}{black}{r9}{m8}
\Nd{f}{m10}{1457}{black}{G3-3}{m9}
\Nd{f}{m11}{1428.6}{black}{r8}{m10}
\Nd{f}{m12}{1383.6}{black}{m6}{m11}
\Nd{f}{m13}{1332}{black}{k1}{m12}
\Nd{f}{m14}{1234.3}{black}{m1}{m13}
\Nd{f}{m15}{1057.6}{black}{n15}{m14}
\Sb{f}{1073}{817}{1093.6}{1173.6}{15.5}
\end{scope}
\end{tikzpicture}
\end{document}
